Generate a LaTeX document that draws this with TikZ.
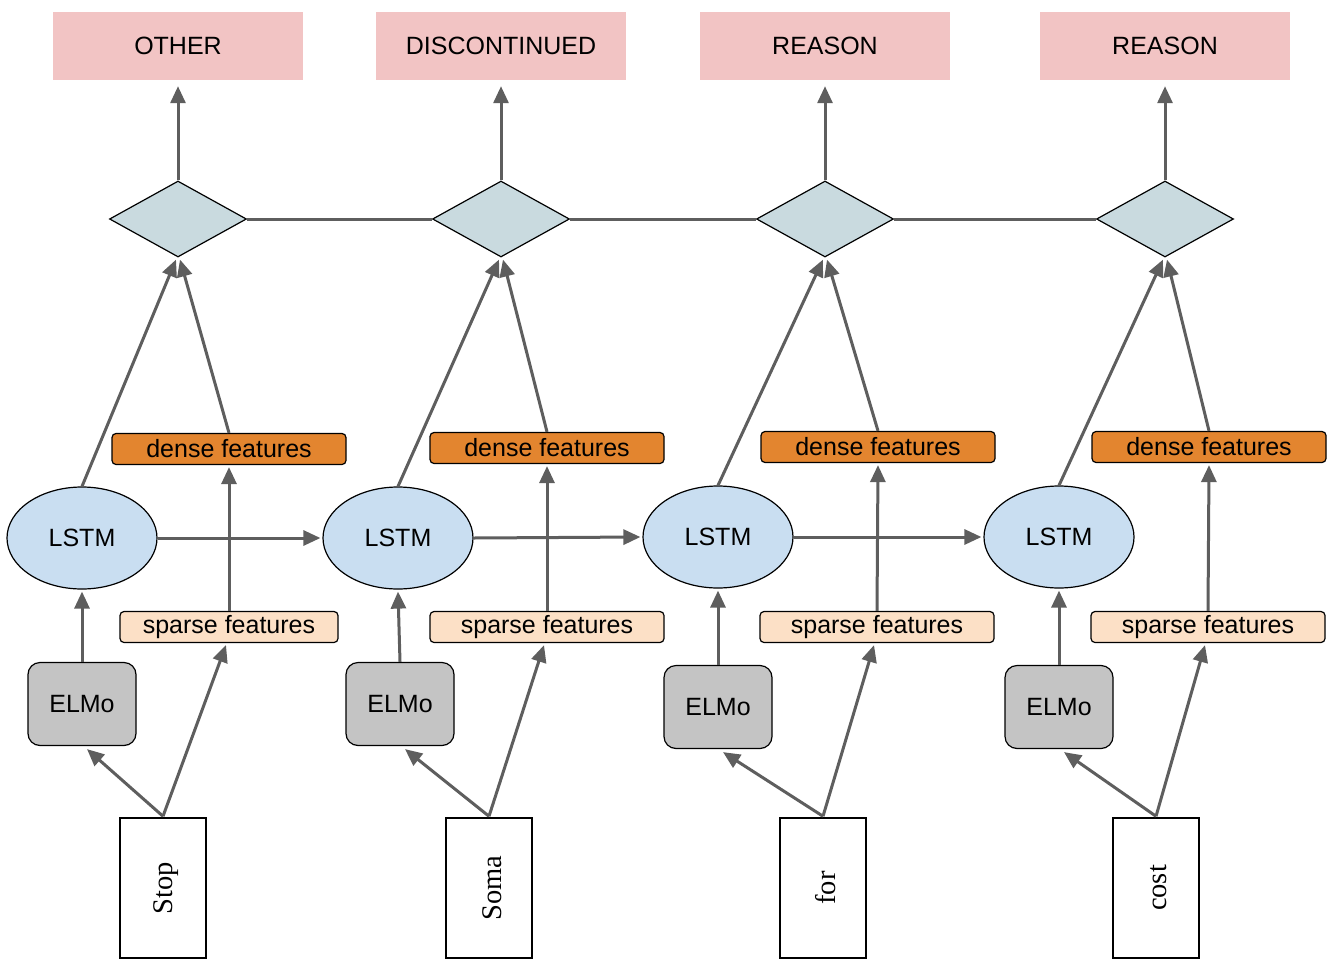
\documentclass[tikz,border=0pt]{standalone}
\usepackage{fontspec}
\setmainfont{Liberation Sans}
\newfontfamily\wordfont{Liberation Serif}
\usetikzlibrary{shapes.geometric,arrows.meta,calc}
\definecolor{labpink}{HTML}{F2C4C4}
\definecolor{diafill}{HTML}{C9DADF}
\definecolor{lstmfill}{HTML}{C9DEF1}
\definecolor{densefill}{HTML}{E3852F}
\definecolor{sparsefill}{HTML}{FCE0C6}
\definecolor{elmofill}{HTML}{C4C4C4}
\definecolor{conn}{HTML}{5E5E5E}
\tikzset{
  lab/.style={fill=labpink,draw=none,minimum width=250pt,minimum height=68pt,inner sep=0pt,font=\fontsize{25}{30}\selectfont},
  dia/.style={diamond,draw=black,line width=1.2pt,fill=diafill,minimum width=137pt,minimum height=76pt,shape aspect=1.8,inner sep=0pt},
  lstm/.style={ellipse,draw=black,line width=1.2pt,fill=lstmfill,minimum width=150pt,minimum height=102pt,inner sep=0pt,font=\fontsize{25}{30}\selectfont},
  dense/.style={rectangle,rounded corners=4pt,draw=black,line width=1.2pt,fill=densefill,minimum width=234pt,minimum height=31pt,inner sep=0pt,font=\fontsize{25}{30}\selectfont},
  sparse/.style={rectangle,rounded corners=4pt,draw=black,line width=1.2pt,fill=sparsefill,minimum width=218pt,minimum height=31pt,inner sep=0pt,font=\fontsize{25}{30}\selectfont},
  elmo/.style={rectangle,rounded corners=12pt,draw=black,line width=1.2pt,fill=elmofill,minimum width=108pt,minimum height=83pt,inner sep=0pt,font=\fontsize{25}{30}\selectfont},
  word/.style={rectangle,draw=black,line width=1.5pt,fill=white,minimum width=86pt,minimum height=140pt,inner sep=0pt},
  wtext/.style={font=\wordfont\fontsize{28.5}{32}\selectfont,rotate=90,inner sep=0pt},
  arr/.style={draw=conn,line width=3pt,-{Triangle[length=17pt,width=15pt]}},
  ln/.style={draw=conn,line width=3pt},
}
\begin{document}
\begin{tikzpicture}[x=1pt,y=-1pt]
\useasboundingbox (0,0) rectangle (1337,969);
% top labels
\node[lab] (o1) at (178,46) {OTHER};
\node[lab] (o2) at (501,46) {DISCONTINUED};
\node[lab] (o3) at (825,46) {REASON};
\node[lab] (o4) at (1165,46) {REASON};
% diamonds
\node[dia] (d1) at (178,219) {};
\node[dia] (d2) at (501,219) {};
\node[dia] (d3) at (825,219) {};
\node[dia] (d4) at (1165,219) {};
% dense
\node[dense] (f1) at (229,449) {dense features};
\node[dense] (f2) at (547,448) {dense features};
\node[dense] (f3) at (878,447) {dense features};
\node[dense] (f4) at (1209,447) {dense features};
% lstm
\node[lstm] (l1) at (82,538) {LSTM};
\node[lstm] (l2) at (398,538) {LSTM};
\node[lstm] (l3) at (718,537) {LSTM};
\node[lstm] (l4) at (1059,537) {LSTM};
% sparse
\node[sparse] (s1) at (229,627) {sparse features};
\node[sparse,minimum width=234pt] (s2) at (547,627) {sparse features};
\node[sparse,minimum width=234pt] (s3) at (877,627) {sparse features};
\node[sparse,minimum width=234pt] (s4) at (1208,627) {sparse features};
% elmo
\node[elmo] (e1) at (82,704) {ELMo};
\node[elmo] (e2) at (400,704) {ELMo};
\node[elmo] (e3) at (718,707) {ELMo};
\node[elmo] (e4) at (1059,707) {ELMo};
% words
\node[word] (w1) at (163,888) {};
\node[wtext] at ($(w1)+(3,0)$) {Stop};
\node[word] (w2) at (489,888) {};
\node[wtext] at ($(w2)+(3,0)$) {Soma};
\node[word] (w3) at (823,888) {};
\node[wtext] at ($(w3)+(3,0)$) {for};
\node[word] (w4) at (1156,888) {};
\node[wtext] at ($(w4)+(3,0)$) {cost};
% connectors between diamonds
\draw[ln] (d1.east) -- (d2.west);
\draw[ln] (d2.east) -- (d3.west);
\draw[ln] (d3.east) -- (d4.west);
% diamond -> label
\foreach \i in {1,2,3,4}{
  \draw[arr] (d\i.north) -- ($(o\i.south)+(0,6)$);
}
% lstm chain
\draw[arr] (l1.east) -- ($(l2.west)+(-2,0)$);
\draw[arr] (l2.east) -- ($(l3.west)+(-2,0)$);
\draw[arr] (l3.east) -- ($(l4.west)+(-2,0)$);
\foreach \i in {1,2,3,4}{
  % lstm -> diamond
  \draw[arr] (l\i.north) -- ($(d\i.south)+(-2,2)$);
  % dense -> diamond
  \draw[arr] (f\i.north) -- ($(d\i.south)+(2,2)$);
  % sparse -> dense
  \draw[arr] (s\i.north) -- ($(f\i.south)+(0,2)$);
  % elmo -> lstm
  \draw[arr] (e\i.north) -- ($(l\i.south)+(0,2)$);
  % word -> elmo
  \draw[arr] ($(w\i.north)+(0,-1)$) -- ($(e\i.south)+(5,3)$);
  % word -> sparse
  \draw[arr] ($(w\i.north)+(0,-1)$) -- ($(s\i.south)+(-3,2)$);
}
\end{tikzpicture}
\end{document}
